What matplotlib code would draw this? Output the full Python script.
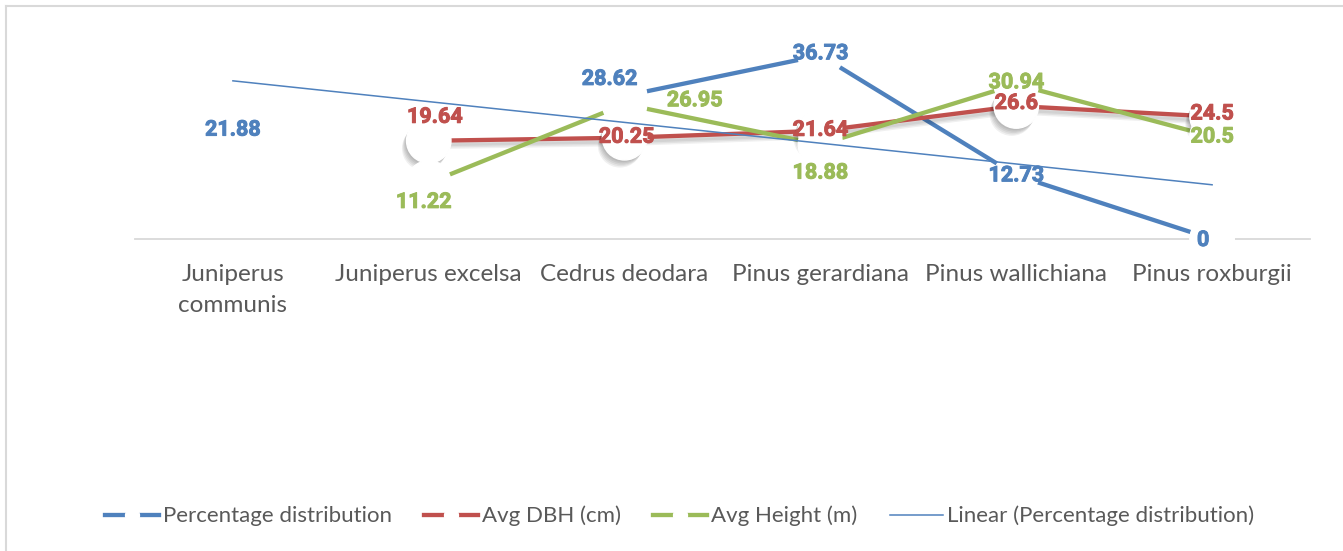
import numpy as np
import matplotlib
matplotlib.use("Agg")
import matplotlib.pyplot as plt
import matplotlib.patheffects as pe
from matplotlib.lines import Line2D

# chart data
species = ["Juniperus\ncommunis", "Juniperus excelsa", "Cedrus deodara",
           "Pinus gerardiana", "Pinus wallichiana", "Pinus roxburgii"]
pct_dist = [21.88, np.nan, 28.62, 36.73, 12.73, 0]
avg_dbh = [np.nan, 19.64, 20.25, 21.64, 26.6, 24.5]
avg_height = [np.nan, 11.22, 26.95, 18.88, 30.94, 20.5]
series_names = ["Percentage distribution", "Avg DBH (cm)", "Avg Height (m)"]

# label nudges in pixels (x right, y up), as they sit in the original chart
pct_offsets = [(0, 0), (0, 0), (-15, 17), (0, 2), (0, 0), (-9, -1)]
dbh_offsets = [(0, 0), (6, 24), (2, 1), (0, 1), (0, 3), (0, 3)]
height_offsets = [(0, 0), (-5, -19), (70, 4), (0, -28), (0, 2), (0, 0)]

colors = ["#4F81BD", "#C0504D", "#9BBB59"]
text_gray = "#595959"
plt.rcParams["font.family"] = ["Lato", "DejaVu Sans"]

W, H = 1343, 551
fig = plt.figure(figsize=(W / 100, H / 100), dpi=100)
ax = fig.add_axes([135 / W, (H - 239) / H, 1175 / W, 200 / H])

x = np.arange(len(species))
all_series = [pct_dist, avg_dbh, avg_height]
all_offsets = [pct_offsets, dbh_offsets, height_offsets]

# soft shadow: a few faint copies stacked
line_shadow = [pe.SimpleLineShadow(offset=(-0.5, -k), shadow_color="black", alpha=0.06)
               for k in (1.5, 2.5, 3.5, 4.5)] + [pe.Normal()]
mark_shadow = [pe.SimplePatchShadow(offset=(-k * 0.6, -k), shadow_rgbFace="black", alpha=0.06)
               for k in (1.5, 2.5, 3.5, 4.5, 5.5)] + [pe.Normal()]

for i, (vals, col) in enumerate(zip(all_series, colors)):
    vals = np.array(vals, dtype=float)
    effects_line = [pe.Normal()]
    effects_mark = [pe.Normal()]
    if i == 1:
        # only the DBH series carries a drop shadow
        effects_line = line_shadow
        effects_mark = mark_shadow
    ax.plot(x, vals, color=col, lw=3.1, zorder=2, path_effects=effects_line,
            solid_capstyle="butt")
    ax.plot(x, vals, linestyle="none", marker="o", markersize=32,
            markerfacecolor="white", markeredgecolor="white", zorder=3,
            clip_on=False, path_effects=effects_mark)

# linear trendline of percentage distribution (Excel skips the blank point)
pd_arr = np.array(pct_dist, dtype=float)
ok = ~np.isnan(pd_arr)
slope, intercept = np.polyfit(x[ok] + 1, pd_arr[ok], 1)
ax.plot(x, slope * (x + 1) + intercept, color=colors[0], lw=1.1, zorder=4)

# data labels (bold, thickened a little with a same-colour stroke)
for vals, col, offs in zip(all_series, colors, all_offsets):
    for xi, v, (dx, dy) in zip(x, vals, offs):
        if np.isnan(v):
            continue
        ax.annotate(f"{v:g}", (xi, v), xytext=(dx, dy), textcoords="offset pixels",
                    ha="center", va="center", color=col, fontsize=15.5,
                    fontweight="bold", family=["Roboto", "DejaVu Sans"],
                    zorder=6, annotation_clip=False,
                    path_effects=[pe.withStroke(linewidth=0.7, foreground=col)])

ax.set_xlim(-0.5, len(species) - 0.5)
ax.set_ylim(0, 40)
ax.set_yticks([])
ax.set_xticks(x)
ax.set_xticklabels(species, fontsize=17.5, color=text_gray, linespacing=1.6, va="top")
ax.tick_params(axis="x", length=0, pad=18)
for s in ["top", "left", "right"]:
    ax.spines[s].set_visible(False)
ax.spines["bottom"].set_color("#d9d9d9")
ax.spines["bottom"].set_linewidth(1.3)

# legend
handles = [Line2D([0], [0], color=c, lw=3.1, marker="o", markersize=10,
                  markerfacecolor="white", markeredgecolor="white") for c in colors]
handles.append(Line2D([0], [0], color=colors[0], lw=1.1))
labels = series_names + ["Linear (Percentage distribution)"]
fig.legend(handles, labels, loc="center", bbox_to_anchor=(680 / W, 1 - 516 / H),
           ncol=4, frameon=False, fontsize=16, handlelength=2.4, handletextpad=0.2,
           columnspacing=1.45, labelcolor=text_gray)

# thin outer chart border (top and left edges visible)
fig.add_artist(Line2D([6 / W, 6 / W], [0, 1 - 6 / H], color="#d9d9d9", lw=1.5))
fig.add_artist(Line2D([6 / W, 1], [1 - 6 / H, 1 - 6 / H], color="#d9d9d9", lw=1.5))

fig.savefig("out.png", dpi=100)
